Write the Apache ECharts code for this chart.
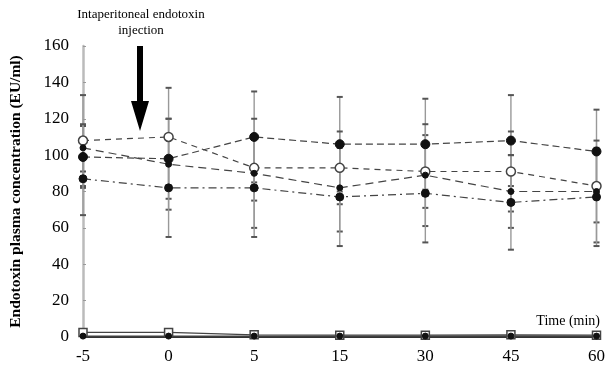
<!DOCTYPE html>
<html>
<head>
<meta charset="utf-8">
<script src="https://cdn.jsdelivr.net/npm/echarts@6/dist/echarts.min.js"></script>
<style>
  html, body { margin: 0; padding: 0; background: #fff; }
  #chart { width: 608px; height: 369px; }
</style>
</head>
<body>
<div id="chart"></div>
<script>
// time points (min) and y ticks
var categories = ['-5', '0', '5', '15', '30', '45', '60'];
var yTicks = [0, 20, 40, 60, 80, 100, 120, 140, 160];

// group means and SDs
var s1 = [99, 98, 110, 106, 106, 108, 102];
var s1Sd = [17, 22, 25, 26, 25, 25, 23];
var s2 = [108, 110, 93, 93, 91, 91, 83];
var s2Sd = [25, 27, 18, 20, 20, 22, 20];
var s3 = [104, 95, 90, 82, 89, 80, 80];
var s3Sd = [13, 25, 30, 24, 28, 20, 28];
var s4 = [87, 82, 82, 77, 79, 74, 77];
var s4Sd = [20, 27, 27, 27, 27, 26, 27];
// control groups near zero
var c1 = [2.5, 2.5, 1.2, 1, 1, 1.2, 1];
var c2 = [0.5, 0.5, 0.5, 0.5, 0.5, 0.5, 0.5];

var serif = '"Liberation Serif", "DejaVu Serif", serif';

var chart = echarts.init(document.getElementById('chart'));

// error bar rows [xIndex, low, high]
var errRows = [];
[[s1, s1Sd], [s2, s2Sd], [s3, s3Sd], [s4, s4Sd]].forEach(function (p) {
    p[0].forEach(function (v, i) {
        errRows.push([i, v - p[1][i], v + p[1][i]]);
    });
});

function renderErr(params, api) {
    var top = api.coord([api.value(0), api.value(2)]);
    var bot = api.coord([api.value(0), api.value(1)]);
    var w = 3;
    var st = { stroke: '#999', lineWidth: 1.4 };
    return {
        type: 'group',
        children: [
            { type: 'line', shape: { x1: top[0], y1: top[1], x2: bot[0], y2: bot[1] }, style: st },
            { type: 'line', shape: { x1: top[0] - w, y1: top[1], x2: top[0] + w, y2: top[1] }, style: { stroke: '#555', lineWidth: 2 } },
            { type: 'line', shape: { x1: bot[0] - w, y1: bot[1], x2: bot[0] + w, y2: bot[1] }, style: { stroke: '#555', lineWidth: 2 } }
        ]
    };
}

function lineSeries(name, data, symbol, size, filled, dash) {
    return {
        name: name,
        type: 'line',
        data: data,
        symbol: symbol,
        symbolSize: size,
        z: 5,
        lineStyle: { color: '#444', width: 1.2, type: dash },
        itemStyle: filled
            ? { color: '#111', borderColor: '#111' }
            : { color: '#fff', borderColor: '#444', borderWidth: 1.5 }
    };
}

var option = {
    backgroundColor: '#fff',
    animation: false,
    grid: { left: 81, right: 10, top: 46, bottom: 32 },
    xAxis: {
        type: 'category',
        data: categories,
        boundaryGap: false,
        axisLine: { lineStyle: { color: '#333', width: 2 } },
        axisTick: { show: false },
        axisLabel: { color: '#000', fontFamily: serif, fontSize: 17, margin: 11 }
    },
    yAxis: {
        type: 'value',
        min: 0,
        max: 160,
        interval: 20,
        name: 'Endotoxin plasma concentration (EU/ml)',
        nameLocation: 'middle',
        nameGap: 59,
        nameTextStyle: { color: '#000', fontFamily: serif, fontSize: 15.5, fontWeight: 'bold' },
        splitLine: { show: false },
        axisLine: { show: true, lineStyle: { color: '#bbb', width: 2.5 } },
        axisTick: { show: true, length: 3, inside: true, lineStyle: { color: '#999' } },
        axisLabel: {
            color: '#000', fontFamily: serif, fontSize: 17, margin: 14,
            formatter: function (v) { return yTicks.indexOf(v) >= 0 ? String(v) : ''; }
        }
    },
    graphic: [
        {
            type: 'text', x: 141, y: 7,
            style: {
                text: 'Intaperitoneal endotoxin\ninjection', textAlign: 'center',
                font: '13px ' + serif, fill: '#000', lineHeight: 16
            }
        },
        {
            type: 'polygon',
            shape: { points: [[137, 46], [143, 46], [143, 101], [149, 101], [140, 131], [131, 101], [137, 101]] },
            style: { fill: '#000' }
        },
        {
            type: 'text', right: 8, top: 314,
            style: { text: 'Time (min)', font: '14px ' + serif, fill: '#000' }
        }
    ],
    series: [
        { type: 'custom', renderItem: renderErr, data: errRows, z: 2, silent: true, encode: { x: 0, y: [1, 2] } },
        lineSeries('A', s1, 'circle', 9, true, [7, 4]),
        lineSeries('B', s2, 'circle', 9, false, [6, 5]),
        lineSeries('C', s3, 'circle', 6, true, [8, 5]),
        lineSeries('D', s4, 'circle', 8, true, [8, 4, 2, 4]),
        lineSeries('E', c1, 'rect', 8, false, 'solid'),
        lineSeries('F', c2, 'circle', 6, true, 'solid')
    ]
};

chart.setOption(option);
</script>
</body>
</html>
